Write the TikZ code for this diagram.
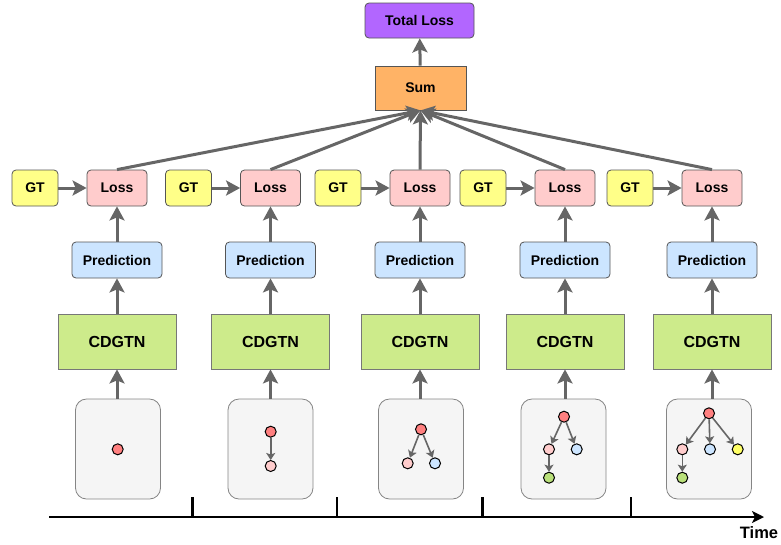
\documentclass[tikz,border=0pt]{standalone}
\usepackage{fontspec}
\setmainfont{Liberation Sans}
\usetikzlibrary{arrows.meta}
\definecolor{edge}{HTML}{666666}
\definecolor{bord}{HTML}{555555}
\definecolor{cLoss}{HTML}{FFCCCC}
\definecolor{cGT}{HTML}{FFFF88}
\definecolor{cPred}{HTML}{CCE5FF}
\definecolor{cNet}{HTML}{CDEB8B}
\definecolor{cSum}{HTML}{FFB366}
\definecolor{cTot}{HTML}{B266FF}
\definecolor{cGraph}{HTML}{F5F5F5}
\definecolor{nRed}{HTML}{FF8080}
\definecolor{nPink}{HTML}{FFCCCC}
\definecolor{nBlue}{HTML}{CCE5FF}
\definecolor{nGreen}{HTML}{B9E07A}
\definecolor{nYellow}{HTML}{FFFF66}
\begin{document}
\begin{tikzpicture}[x=1pt,y=-1pt,
  box/.style={draw=bord, line width=0.8pt, rounded corners=4pt, inner sep=0pt,
    font=\bfseries\fontsize{14}{16}\selectfont},
  lossbox/.style={box, fill=cLoss, minimum width=60pt, minimum height=36pt},
  gtbox/.style={box, fill=cGT, minimum width=46pt, minimum height=36pt},
  predbox/.style={box, fill=cPred, minimum width=90pt, minimum height=36pt},
  netbox/.style={draw=bord!80, line width=0.8pt, fill=cNet, inner sep=0pt,
    minimum width=118pt, minimum height=55pt, font=\bfseries\fontsize{16}{18}\selectfont},
  graphbox/.style={draw=edge!80, line width=0.8pt, fill=cGraph, rounded corners=11pt,
    minimum width=85pt, minimum height=100pt},
  flow/.style={draw=edge, line width=3pt, -{Stealth[length=14pt,width=15pt,inset=3pt]}},
  gn/.style={circle, draw=black, line width=1pt, minimum size=11pt, inner sep=0pt},
  gedge/.style={draw=edge, line width=1.6pt, -{Stealth[length=7pt,width=9pt,inset=1.5pt]}},
]
\useasboundingbox (0,0) rectangle (781,544);

% top
\node[box, fill=cTot, minimum width=109pt, minimum height=35pt] (tot) at (419.5,20.5) {Total Loss};
\node[draw=bord, line width=0.8pt, fill=cSum, inner sep=0pt, minimum width=91pt, minimum height=44pt,
  font=\bfseries\fontsize{14}{16}\selectfont] (sum) at (420.5,88) {Sum};
\draw[flow] (sum) -- (tot);

% columns
\foreach \i/\x/\gx in {1/117/118, 2/270.5/270.5, 3/420/421, 4/565/563.5, 5/712/709}{
  \node[lossbox] (loss\i) at (\x,188) {Loss};
  \node[gtbox] (gt\i) at (\x-82,188) {GT};
  \node[predbox] (pred\i) at (\x,260) {Prediction};
  \node[netbox] (net\i) at (\x,341.5) {CDGTN};
  \node[graphbox] (g\i) at (\gx,449) {};
  \draw[flow] (gt\i) -- (loss\i);
  \draw[flow] (pred\i) -- (loss\i);
  \draw[flow] (net\i) -- (pred\i);
  \draw[flow] (g\i.north -| net\i) -- (net\i);
  \draw[flow] (loss\i.north) -- (sum.south);
}

% graphs
\node[gn, fill=nRed] (a1) at (117.7,449.3) {};

\node[gn, fill=nRed] (b1) at (270.7,431.7) {};
\node[gn, fill=nPink] (b2) at (270.7,466) {};
\draw[gedge] (b1) -- (b2);

\node[gn, fill=nRed] (c1) at (421,429.3) {};
\node[gn, fill=nPink] (c2) at (407.7,463.3) {};
\node[gn, fill=nBlue] (c3) at (435,463.3) {};
\draw[gedge] (c1) -- (c2);
\draw[gedge] (c1) -- (c3);

\node[gn, fill=nRed] (d1) at (564,416.7) {};
\node[gn, fill=nPink] (d2) at (549,449.3) {};
\node[gn, fill=nBlue] (d3) at (576.7,449.3) {};
\node[gn, fill=nGreen] (d4) at (549,477.7) {};
\draw[gedge] (d1) -- (d2);
\draw[gedge] (d1) -- (d3);
\draw[gedge] (d2) -- (d4);

\node[gn, fill=nRed] (e1) at (709,413.3) {};
\node[gn, fill=nPink] (e2) at (682.3,449.3) {};
\node[gn, fill=nBlue] (e3) at (710,449.3) {};
\node[gn, fill=nYellow] (e4) at (737.7,449.3) {};
\node[gn, fill=nGreen] (e5) at (682.3,477.7) {};
\draw[gedge] (e1) -- (e2);
\draw[gedge] (e1) -- (e3);
\draw[gedge] (e1) -- (e4);
\draw[gedge] (e2) -- (e5);

% timeline
\coordinate (t0) at (49,517);
\coordinate (t1) at (764,517);
\draw[line width=2.5pt, -{Stealth[length=12pt,width=12pt,inset=3pt]}] (t0) -- (t1);
\foreach \tx in {192.7,337,482.7,631}{
  \draw[line width=2.5pt] (\tx,497) -- (\tx,517);
}
\node[font=\bfseries\fontsize{16.5}{18}\selectfont, anchor=center] (time) at (759,533) {Time};
\end{tikzpicture}
\end{document}
